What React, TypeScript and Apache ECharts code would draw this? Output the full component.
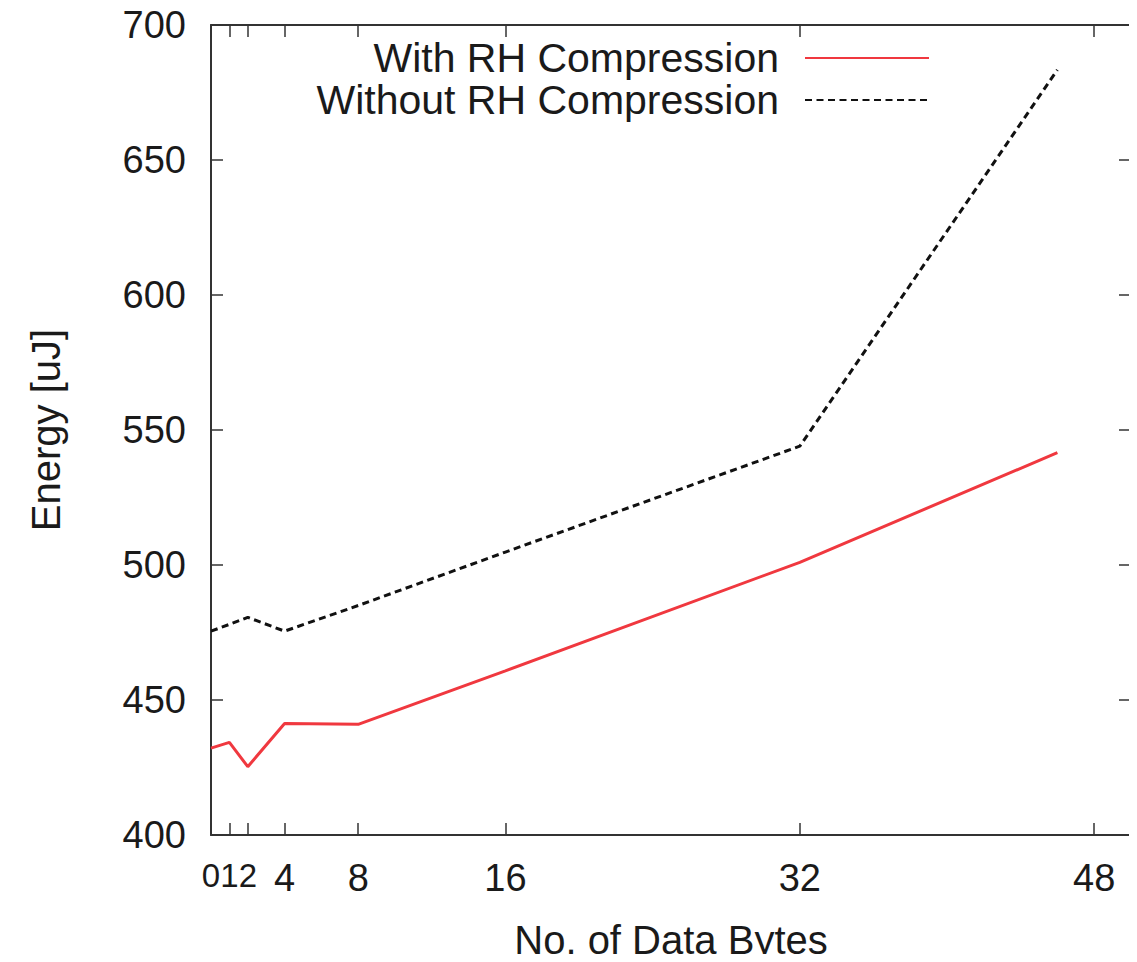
import React, { useEffect, useRef } from "react";
import * as echarts from "echarts";

const dataBytes = [0, 1, 2, 4, 8, 16, 32, 46];
const withRH = [432.2, 434.3, 425.3, 441.3, 441.0, 460.8, 501.0, 541.6];
const withoutRH = [475.5, 478.0, 480.6, 475.5, 485.0, 504.8, 544.0, 683.4];
const xTicks = [0, 1, 2, 4, 8, 16, 32, 48];
const seriesNames = ["With RH Compression", "Without RH Compression"];
const xTitle = "No. of Data Bytes";
const yTitle = "Energy [uJ]";

const FONT = "'Liberation Sans', Arial, Helvetica, sans-serif";
const TXT = "#1a1a1a";
const AX = "#333333";

export default function App() {
  const ref = useRef<HTMLDivElement>(null);
  useEffect(() => {
    if (!ref.current) return;
    const chart = echarts.init(ref.current, undefined, { renderer: "svg" });
    const pair = (ys: number[]) => dataBytes.map((x, i) => [x, ys[i]]);
    const tickCommon = { show: true, inside: true, length: 12, lineStyle: { color: AX, width: 1.5 } };
    const lineCommon = { show: true, onZero: false, lineStyle: { color: AX, width: 2 } };
    chart.setOption({
      animation: false,
      backgroundColor: "#ffffff",
      textStyle: { fontFamily: FONT },
      grid: { left: 211, right: 6, top: 25, bottom: 127, containLabel: false },
      legend: {
        orient: "vertical",
        align: "right",
        right: 207,
        top: 37,
        padding: 0,
        itemWidth: 124,
        itemHeight: 14,
        itemGap: 0,
        itemStyle: { opacity: 0 },
        data: seriesNames,
        textStyle: { fontSize: 41, color: TXT, fontFamily: FONT, lineHeight: 42, padding: [0, 21, 0, 0] },
      },
      xAxis: [
        {
          type: "value",
          min: 0,
          max: 50,
          position: "bottom",
          axisLine: lineCommon,
          axisTick: { ...tickCommon, customValues: xTicks },
          axisLabel: {
            customValues: xTicks,
            showMinLabel: true,
            fontSize: 38,
            color: TXT,
            margin: 24,
            fontFamily: FONT,
            formatter: (v: number) => (v <= 2 ? `{s|${v}}` : `${v}`),
            rich: { s: { fontSize: 33, fontFamily: FONT, color: TXT } },
          },
          splitLine: { show: false },
        },
        {
          type: "value",
          min: 0,
          max: 50,
          position: "top",
          axisLine: lineCommon,
          axisTick: { ...tickCommon, customValues: xTicks },
          axisLabel: { show: false },
          splitLine: { show: false },
        },
      ],
      yAxis: [
        {
          type: "value",
          min: 400,
          max: 700,
          interval: 50,
          position: "left",
          axisLine: lineCommon,
          axisTick: tickCommon,
          axisLabel: { fontSize: 38, color: TXT, margin: 25, fontFamily: FONT },
          splitLine: { show: false },
        },
        {
          type: "value",
          min: 400,
          max: 700,
          interval: 50,
          position: "right",
          axisLine: lineCommon,
          axisTick: tickCommon,
          axisLabel: { show: false },
          splitLine: { show: false },
        },
      ],
      graphic: [
        {
          type: "text",
          x: 46,
          y: 430,
          rotation: Math.PI / 2,
          style: {
            text: yTitle,
            fontSize: 40,
            fontFamily: FONT,
            fill: TXT,
            textAlign: "center",
            textVerticalAlign: "middle",
          },
        },
        {
          type: "text",
          x: 671,
          y: 940,
          style: {
            text: xTitle,
            fontSize: 40,
            fontFamily: FONT,
            fill: TXT,
            textAlign: "center",
            textVerticalAlign: "middle",
          },
        },
      ],
      series: [
        {
          name: seriesNames[0],
          type: "line",
          symbol: "none",
          data: pair(withRH),
          lineStyle: { color: "#f0383f", width: 3 },
          itemStyle: { color: "#f0383f" },
        },
        {
          name: seriesNames[1],
          type: "line",
          symbol: "none",
          data: pair(withoutRH),
          lineStyle: { color: "#111111", width: 3, type: [7, 4.5] },
          itemStyle: { color: "#111111" },
        },
      ],
    });
    return () => chart.dispose();
  }, []);
  return <div ref={ref} style={{ width: 1137, height: 962, margin: -8 }} />;
}
